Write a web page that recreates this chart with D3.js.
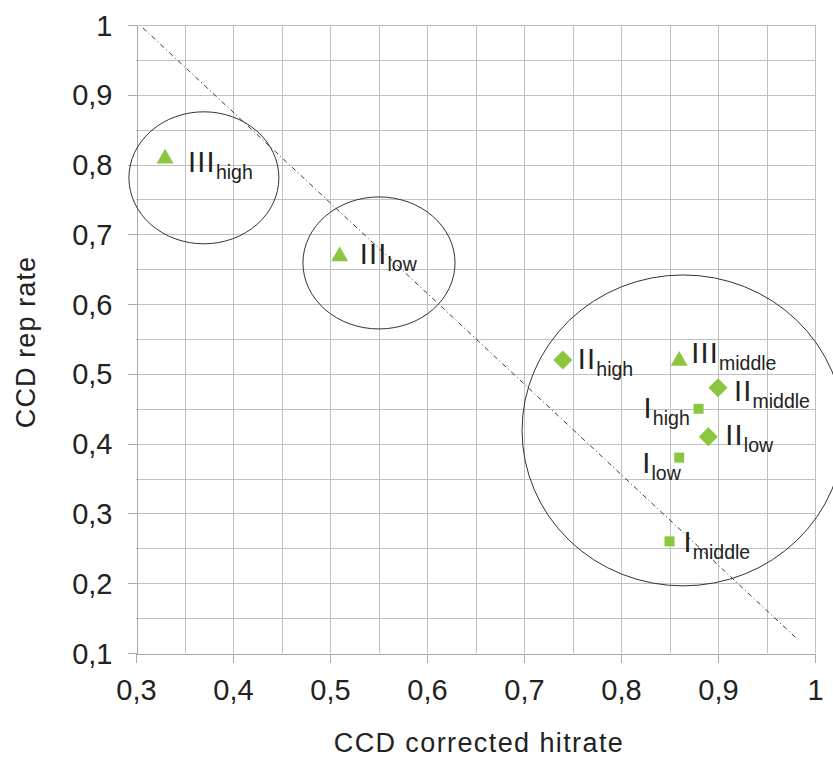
<!DOCTYPE html>
<html>
<head>
<meta charset="utf-8">
<script src="https://cdn.jsdelivr.net/npm/d3@7"></script>
<style>
  html, body { margin: 0; padding: 0; background: #fff; }
  svg { display: block; }
  text { font-family: "Liberation Sans", Arial, sans-serif; fill: #222; }
</style>
</head>
<body>
<svg id="chart" width="833" height="758"></svg>
<script>
// Series values (x = CCD corrected hitrate, y = CCD rep rate)
const levelNames = ["high", "middle", "low"];
const seriesI_x   = [0.88, 0.85, 0.86];
const seriesI_y   = [0.45, 0.26, 0.38];
const seriesII_x  = [0.74, 0.90, 0.89];
const seriesII_y  = [0.52, 0.48, 0.41];
const seriesIII_x = [0.33, 0.86, 0.51];
const seriesIII_y = [0.81, 0.52, 0.67];

// Tick values
const xTicks = [0.3, 0.4, 0.5, 0.6, 0.7, 0.8, 0.9, 1.0];
const yTicks = [0.1, 0.2, 0.3, 0.4, 0.5, 0.6, 0.7, 0.8, 0.9, 1.0];

// Cluster ellipses (centre and radii in data units)
const clusterCx = [0.370, 0.5505, 0.864];
const clusterCy = [0.781, 0.659, 0.419];
const clusterRx = [0.0773, 0.0784, 0.166];
const clusterRy = [0.0946, 0.0946, 0.2228];

// Diagonal reference line end points
const refLineX = [0.307, 0.981];
const refLineY = [0.996, 0.121];

const svg = d3.select("#chart");
const x = d3.scaleLinear().domain([0.3, 1]).range([136, 815]);
const y = d3.scaleLinear().domain([0.1, 1]).range([653, 25]);
const fmt = v => d3.format(".1f")(v).replace(/\.0$/, "").replace(".", ",");

// Grid every 0.05
const gridX = d3.range(0, 15).map(i => 0.3 + i * 0.05).filter(v => v > 0.3001);
const gridY = d3.range(0, 19).map(i => 0.1 + i * 0.05).filter(v => v > 0.1001);
const grid = svg.append("g").attr("stroke", "#c0c0c0").attr("stroke-width", 1).attr("shape-rendering", "crispEdges");
grid.selectAll("line.v").data(gridX).join("line")
  .attr("x1", d => Math.round(x(d)) + 0.5).attr("x2", d => Math.round(x(d)) + 0.5)
  .attr("y1", y(1)).attr("y2", y(0.1));
grid.selectAll("line.h").data(gridY).join("line")
  .attr("y1", d => Math.round(y(d)) + 0.5).attr("y2", d => Math.round(y(d)) + 0.5)
  .attr("x1", x(0.3)).attr("x2", x(1));

// Axes
const xAxis = d3.axisBottom(x).tickValues(xTicks).tickSize(9).tickFormat(fmt);
const yAxis = d3.axisLeft(y).tickValues(yTicks).tickSize(9).tickFormat(fmt);

const gx = svg.append("g").attr("transform", `translate(0,${y(0.1) + 0.5})`).call(xAxis);
const gy = svg.append("g").attr("transform", `translate(${x(0.3) + 0.5},0)`).call(yAxis);
[gx, gy].forEach(g => {
  g.select(".domain").attr("stroke", "#aaaaaa").attr("shape-rendering", "crispEdges");
  g.selectAll(".tick line").attr("stroke", "#aaaaaa").attr("shape-rendering", "crispEdges");
  g.selectAll(".tick text").attr("font-family", "Liberation Sans, Arial, sans-serif")
    .attr("font-size", 29).attr("fill", "#222");
});
gx.selectAll(".tick text").attr("dy", null).attr("y", 46.5);
gy.selectAll(".tick text").attr("dy", null).attr("x", -24).attr("y", 10);

// Axis titles
svg.append("text").attr("x", 479).attr("y", 752).attr("text-anchor", "middle")
  .attr("font-size", 27).attr("letter-spacing", 1.4).text("CCD corrected hitrate");
svg.append("text").attr("transform", "translate(35,342) rotate(-90)").attr("text-anchor", "middle")
  .attr("font-size", 27).attr("letter-spacing", 1.1).text("CCD rep rate");

// Reference line
svg.append("line")
  .attr("x1", x(refLineX[0])).attr("y1", y(refLineY[0]))
  .attr("x2", x(refLineX[1])).attr("y2", y(refLineY[1]))
  .attr("stroke", "#3a3a3a").attr("stroke-width", 1).attr("stroke-dasharray", "5,3,1,3");

// Cluster ellipses
svg.append("g").selectAll("ellipse").data(clusterCx.map((c, i) => i)).join("ellipse")
  .attr("cx", i => x(clusterCx[i])).attr("cy", i => y(clusterCy[i]))
  .attr("rx", i => x(clusterCx[i] + clusterRx[i]) - x(clusterCx[i]))
  .attr("ry", i => y(clusterCy[i] - clusterRy[i]) - y(clusterCy[i]))
  .attr("fill", "none").attr("stroke", "#333").attr("stroke-width", 1);

// Points with labels
const green = "#8cc63f";
const points = [];
const addSeries = (roman, xs, ys, shape) =>
  xs.forEach((v, i) => points.push({ roman, level: levelNames[i], x: v, y: ys[i], shape }));
addSeries("I", seriesI_x, seriesI_y, "square");
addSeries("II", seriesII_x, seriesII_y, "diamond");
addSeries("III", seriesIII_x, seriesIII_y, "triangle");

// Label offsets from each marker, in pixels
const labelOffset = {
  "I-high": [-55, 9], "I-middle": [14, 11], "I-low": [-37, 15],
  "II-high": [15, 9], "II-middle": [16, 13], "II-low": [17, 8],
  "III-high": [23, 14], "III-middle": [12, 3], "III-low": [20, 9]
};

const symbolFor = {
  square: d3.symbol().type(d3.symbolSquare).size(100),
  diamond: d3.symbol().type(d3.symbolSquare).size(180),
  triangle: d3.symbol().type(d3.symbolTriangle).size(125)
};

const pg = svg.append("g");
pg.selectAll("path").data(points).join("path")
  .attr("d", d => symbolFor[d.shape]())
  .attr("transform", d => `translate(${x(d.x)},${y(d.y) + (d.shape === "triangle" ? 1 : 0)})` + (d.shape === "diamond" ? " rotate(45)" : ""))
  .attr("fill", green);

const lbl = pg.selectAll("text").data(points).join("text")
  .attr("x", d => x(d.x) + labelOffset[d.roman + "-" + d.level][0])
  .attr("y", d => y(d.y) + labelOffset[d.roman + "-" + d.level][1])
  .attr("font-size", 29);
lbl.append("tspan").attr("letter-spacing", 1.2).text(d => d.roman);
lbl.append("tspan").attr("font-size", 19.5).attr("dy", 7).text(d => d.level);
</script>
</body>
</html>
